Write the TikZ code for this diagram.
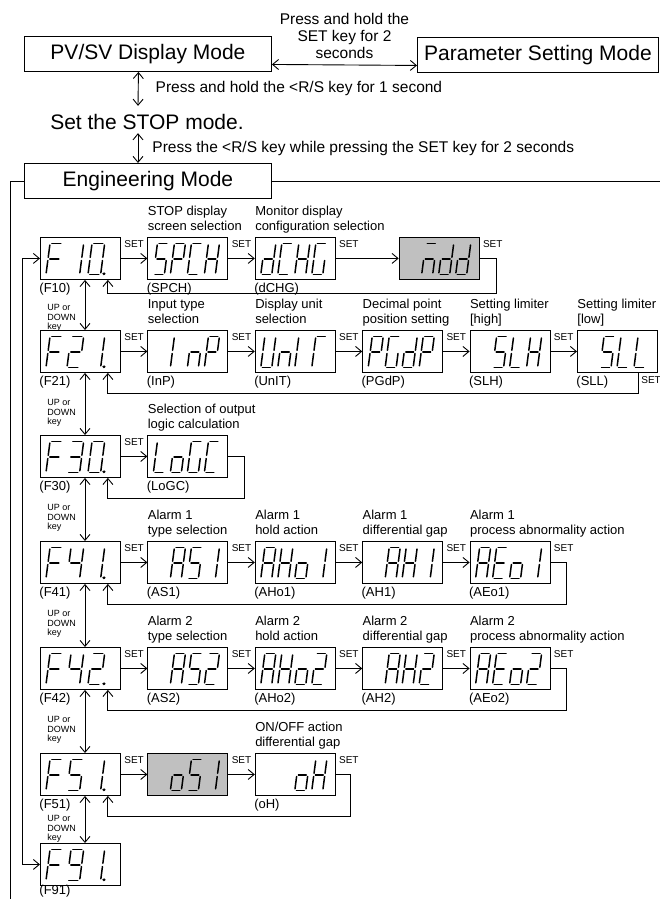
\documentclass[tikz,border=0pt]{standalone}
\usepackage{fontspec}
\setmainfont{Liberation Sans}
\usetikzlibrary{arrows.meta,positioning,calc}
\definecolor{dispgray}{HTML}{C0C0C0}

% seven segment pieces, digit cell 11 x 31, origin bottom left
\newcommand\sgma{(1.6,31) -- (9.4,31)}
\newcommand\sgmb{(11,29.4) -- (11,17.1)}
\newcommand\sgmc{(11,13.9) -- (11,1.6)}
\newcommand\sgmd{(1.6,0) -- (9.4,0)}
\newcommand\sgme{(0,1.6) -- (0,13.9)}
\newcommand\sgmf{(0,17.1) -- (0,29.4)}
\newcommand\sgmg{(1.6,15.5) -- (9.4,15.5)}
\newcommand\sgmp{(13.8,0.6) circle[radius=0.5pt]}
\def\segpitch{17}
\def\segwide{1}
\newcommand\segdigit[3]{%
  \if\relax\detokenize{#3}\relax\else
    \begin{scope}[shift={($(#1.south west)+(6+\segpitch*#2,-5.5)$)},y=1pt,xslant=0.13,xscale=\segwide]
      \foreach \sg in {#3}{\draw[segline] \csname sgm\sg\endcsname;}
    \end{scope}%
  \fi}
\newcommand\segdisp[5]{\segdigit{#1}{0}{#2}\segdigit{#1}{1}{#3}\segdigit{#1}{2}{#4}\segdigit{#1}{3}{#5}}
% function number displays are spaced wider
\newcommand\fdisp[4]{{\def\segpitch{21}\def\segwide{1.15}\segdisp{#1}{#2}{#3}{#4}{}}}

\begin{document}
\begin{tikzpicture}[x=1pt,y=-1pt,
  line width=0.9pt,
  every node/.style={inner sep=0pt},
  modebox/.style={draw,font=\fontsize{21}{24}\selectfont,minimum height=35pt,anchor=north west},
  disp/.style={draw,minimum width=80pt,minimum height=42pt,anchor=north west},
  dimbox/.style={disp,fill=dispgray},
  desc/.style={font=\fontsize{13}{15.5}\selectfont,align=left,anchor=south west,text depth=3pt,yshift=3pt},
  codelbl/.style={font=\fontsize{13}{15}\selectfont,anchor=north west,text height=12.5pt,xshift=-1pt},
  setlbl/.style={font=\fontsize{10}{12}\selectfont,pos=0,anchor=south west,xshift=3pt,yshift=10pt},
  updn/.style={font=\fontsize{9}{9.5}\selectfont,align=left,anchor=north west},
  note/.style={font=\fontsize{15.5}{17}\selectfont},
  arr/.style={-{Straight Barb[length=6pt,width=10pt]}},
  darr/.style={{Straight Barb[length=6pt,width=10pt]}-{Straight Barb[length=6pt,width=10pt]}},
  segline/.style={line width=1.5pt,line cap=round}
]
\useasboundingbox (0,0) rectangle (659,899);

% top modes
\node[modebox,minimum width=247pt] (pvsv) at (24,36) {PV/SV Display Mode};
\node[modebox,minimum width=241pt] (param) at (417,37) {Parameter Setting Mode};
\draw[darr] ([yshift=-10.5pt]pvsv.east) -- ([yshift=-10.5pt]param.west)
  node[note,midway,anchor=south,align=center,yshift=5.5pt] {Press and hold the\\SET key for 2\\seconds};
\node[font=\fontsize{21}{24}\selectfont] (stop) at (147,122) {Set the STOP mode.};
\draw[darr] ([xshift=-9.5pt]pvsv.south) -- ([xshift=-9pt,yshift=8pt]stop.north)
  node[note,midway,anchor=west,xshift=17pt] {Press and hold the <R/S key for 1 second};
\node[modebox,minimum width=247pt] (eng) at (24,163) {Engineering Mode};
\draw[darr] ([yshift=-3pt]stop.south -| 138,0) -- (eng.north -| 138,0)
  node[note,midway,anchor=west,xshift=14pt] {Press the <R/S key while pressing the SET key for 2 seconds};
\coordinate (engdown) at (10,905);
\coordinate (engright) at (662,0);
\draw (eng.west) -| (engdown);
\draw (eng.east) -- (eng.east -| engright);

% F10
\node[disp] (f10) at (40,237) {};
\node[disp,right=26.5pt of f10] (spch) {};
\node[disp,right=26.5pt of spch] (dchg) {};
\node[dimbox,right=63pt of dchg] (mdd) {};
\node[desc] at (spch.north west) {STOP display\\screen selection};
\node[desc] at (dchg.north west) {Monitor display\\configuration selection};
\node[codelbl] at (f10.south west) {(F10)};
\node[codelbl] at (spch.south west) {(SPCH)};
\node[codelbl] at (dchg.south west) {(dCHG)};
\draw[arr] (f10) -- node[setlbl]{SET} (spch);
\draw[arr] (spch) -- node[setlbl]{SET} (dchg);
\draw[arr] (dchg) -- node[setlbl]{SET} (mdd);
\draw[arr] (mdd.east) -- ++(17,0) node[setlbl]{SET} -- ++(0,35) -| ([xshift=-13pt]f10.south east);
\fdisp{f10}{a,e,f,g}{b,c}{a,b,c,d,e,f,p}
\segdisp{spch}{a,f,g,c,d}{a,b,e,f,g}{a,d,e,f}{b,c,e,f,g}
\segdisp{dchg}{b,c,d,e,g}{a,d,e,f}{b,c,e,f,g}{a,c,d,e,f}
\segdisp{mdd}{}{a,c,e,g}{b,c,d,e,g}{b,c,d,e,g}

% F21
\node[disp] (f21) at (40,330) {};
\node[disp,right=26.5pt of f21] (inp) {};
\node[disp,right=26.5pt of inp] (unit) {};
\node[disp,right=26.5pt of unit] (pgdp) {};
\node[disp,right=26.5pt of pgdp] (slh) {};
\node[disp,right=26.5pt of slh] (sll) {};
\node[desc] at (inp.north west) {Input type\\selection};
\node[desc] at (unit.north west) {Display unit\\selection};
\node[desc] at (pgdp.north west) {Decimal point\\position setting};
\node[desc] at (slh.north west) {Setting limiter\\{[high]}};
\node[desc] at (sll.north west) {Setting limiter\\{[low]}};
\node[codelbl] at (f21.south west) {(F21)};
\node[codelbl] at (inp.south west) {(InP)};
\node[codelbl] at (unit.south west) {(UnIT)};
\node[codelbl] at (pgdp.south west) {(PGdP)};
\node[codelbl] at (slh.south west) {(SLH)};
\node[codelbl] at (sll.south west) {(SLL)};
\draw[arr] (f21) -- node[setlbl]{SET} (inp);
\draw[arr] (inp) -- node[setlbl]{SET} (unit);
\draw[arr] (unit) -- node[setlbl]{SET} (pgdp);
\draw[arr] (pgdp) -- node[setlbl]{SET} (slh);
\draw[arr] (slh) -- node[setlbl]{SET} (sll);
\draw[arr] ([xshift=-19pt]sll.south east) -- ++(0,21)
  node[pos=0,anchor=north west,xshift=2pt,yshift=-3pt,font=\fontsize{10}{12}\selectfont]{SET}
  -| ([xshift=-13pt]f21.south east);
\fdisp{f21}{a,e,f,g}{a,b,g,e,d}{b,c,p}
\segdisp{inp}{}{e,f}{c,e,g}{a,b,e,f,g}
\segdisp{unit}{b,c,d,e,f}{c,e,g}{e,f}{a,e,f}
\segdisp{pgdp}{a,b,e,f,g}{a,c,d,e,f}{b,c,d,e,g}{a,b,e,f,g}
\segdisp{slh}{}{a,f,g,c,d}{d,e,f}{b,c,e,f,g}
\segdisp{sll}{}{a,f,g,c,d}{d,e,f}{d,e,f}

% F30
\node[disp] (f30) at (40,435) {};
\node[disp,right=26.5pt of f30] (logc) {};
\node[desc] at (logc.north west) {Selection of output\\logic calculation};
\node[codelbl] at (f30.south west) {(F30)};
\node[codelbl] at (logc.south west) {(LoGC)};
\draw[arr] (f30) -- node[setlbl]{SET} (logc);
\draw[arr] (logc.east) -- ++(16,0) -- ++(0,42) -| ([xshift=-13pt]f30.south east);
\fdisp{f30}{a,e,f,g}{a,b,g,c,d}{a,b,c,d,e,f,p}
\segdisp{logc}{d,e,f}{c,d,e,g}{a,c,d,e,f}{a,d,e,f}

% F41
\node[disp] (f41) at (40,541) {};
\node[disp,right=26.5pt of f41] (as1) {};
\node[disp,right=26.5pt of as1] (aho1) {};
\node[disp,right=26.5pt of aho1] (ah1) {};
\node[disp,right=26.5pt of ah1] (aeo1) {};
\node[desc] at (as1.north west) {Alarm 1\\type selection};
\node[desc] at (aho1.north west) {Alarm 1\\hold action};
\node[desc] at (ah1.north west) {Alarm 1\\differential gap};
\node[desc] at (aeo1.north west) {Alarm 1\\process abnormality action};
\node[codelbl] at (f41.south west) {(F41)};
\node[codelbl] at (as1.south west) {(AS1)};
\node[codelbl] at (aho1.south west) {(AHo1)};
\node[codelbl] at (ah1.south west) {(AH1)};
\node[codelbl] at (aeo1.south west) {(AEo1)};
\draw[arr] (f41) -- node[setlbl]{SET} (as1);
\draw[arr] (as1) -- node[setlbl]{SET} (aho1);
\draw[arr] (aho1) -- node[setlbl]{SET} (ah1);
\draw[arr] (ah1) -- node[setlbl]{SET} (aeo1);
\draw[arr] (aeo1.east) -- ++(16,0) node[setlbl]{SET} -- ++(0,42) -| ([xshift=-13pt]f41.south east);
\fdisp{f41}{a,e,f,g}{f,g,b,c}{b,c,p}
\segdisp{as1}{}{a,b,c,e,f,g}{a,f,g,c,d}{b,c}
\segdisp{aho1}{a,b,c,e,f,g}{b,c,e,f,g}{c,d,e,g}{b,c}
\segdisp{ah1}{}{a,b,c,e,f,g}{b,c,e,f,g}{b,c}
\segdisp{aeo1}{a,b,c,e,f,g}{a,d,e,f,g}{c,d,e,g}{b,c}

% F42
\node[disp] (f42) at (40,647) {};
\node[disp,right=26.5pt of f42] (as2) {};
\node[disp,right=26.5pt of as2] (aho2) {};
\node[disp,right=26.5pt of aho2] (ah2) {};
\node[disp,right=26.5pt of ah2] (aeo2) {};
\node[desc] at (as2.north west) {Alarm 2\\type selection};
\node[desc] at (aho2.north west) {Alarm 2\\hold action};
\node[desc] at (ah2.north west) {Alarm 2\\differential gap};
\node[desc] at (aeo2.north west) {Alarm 2\\process abnormality action};
\node[codelbl] at (f42.south west) {(F42)};
\node[codelbl] at (as2.south west) {(AS2)};
\node[codelbl] at (aho2.south west) {(AHo2)};
\node[codelbl] at (ah2.south west) {(AH2)};
\node[codelbl] at (aeo2.south west) {(AEo2)};
\draw[arr] (f42) -- node[setlbl]{SET} (as2);
\draw[arr] (as2) -- node[setlbl]{SET} (aho2);
\draw[arr] (aho2) -- node[setlbl]{SET} (ah2);
\draw[arr] (ah2) -- node[setlbl]{SET} (aeo2);
\draw[arr] (aeo2.east) -- ++(16,0) node[setlbl]{SET} -- ++(0,42) -| ([xshift=-13pt]f42.south east);
\fdisp{f42}{a,e,f,g}{f,g,b,c}{a,b,g,e,d,p}
\segdisp{as2}{}{a,b,c,e,f,g}{a,f,g,c,d}{a,b,g,e,d}
\segdisp{aho2}{a,b,c,e,f,g}{b,c,e,f,g}{c,d,e,g}{a,b,g,e,d}
\segdisp{ah2}{}{a,b,c,e,f,g}{b,c,e,f,g}{a,b,g,e,d}
\segdisp{aeo2}{a,b,c,e,f,g}{a,d,e,f,g}{c,d,e,g}{a,b,g,e,d}

% F51
\node[disp] (f51) at (40,753) {};
\node[dimbox,right=26.5pt of f51] (os1) {};
\node[disp,right=26.5pt of os1] (oh) {};
\node[desc] at (oh.north west) {ON/OFF action\\differential gap};
\node[codelbl] at (f51.south west) {(F51)};
\node[codelbl] at (oh.south west) {(oH)};
\draw[arr] (f51) -- node[setlbl]{SET} (os1);
\draw[arr] (os1) -- node[setlbl]{SET} (oh);
\draw[arr] (oh.east) -- ++(15,0) node[setlbl]{SET} -- ++(0,42) -| ([xshift=-13pt]f51.south east);
\fdisp{f51}{a,e,f,g}{a,f,g,c,d}{b,c,p}
\segdisp{os1}{}{c,d,e,g}{a,f,g,c,d}{b,c}
\segdisp{oh}{}{}{c,d,e,g}{b,c,e,f,g}

% F91
\node[disp] (f91) at (40,843) {};
\node[codelbl,text height=8.5pt] at (f91.south west) {(F91)};
\fdisp{f91}{a,e,f,g}{a,b,c,d,f,g}{b,c,p}
\draw[darr] (f91.west) -- ++(-18,0) |- (f10.west);

% UP / DOWN
\draw[darr] ([xshift=45pt]f10.south west) -- ([xshift=45pt]f21.north west);
\draw[darr] ([xshift=45pt]f21.south west) -- ([xshift=45pt]f30.north west);
\draw[darr] ([xshift=45pt]f30.south west) -- ([xshift=45pt]f41.north west);
\draw[darr] ([xshift=45pt]f41.south west) -- ([xshift=45pt]f42.north west);
\draw[darr] ([xshift=45pt]f42.south west) -- ([xshift=45pt]f51.north west);
\draw[darr] ([xshift=45pt]f51.south west) -- ([xshift=45pt]f91.north west);
\node[updn] at ($(f10.south west)+(7,24)$) {UP or\\DOWN\\key};
\node[updn] at ($(f21.south west)+(7,26)$) {UP or\\DOWN\\key};
\node[updn] at ($(f30.south west)+(7,26)$) {UP or\\DOWN\\key};
\node[updn] at ($(f41.south west)+(7,26)$) {UP or\\DOWN\\key};
\node[updn] at ($(f42.south west)+(7,26)$) {UP or\\DOWN\\key};
\node[updn] at ($(f51.south west)+(7,19)$) {UP or\\DOWN\\key};
\end{tikzpicture}
\end{document}
